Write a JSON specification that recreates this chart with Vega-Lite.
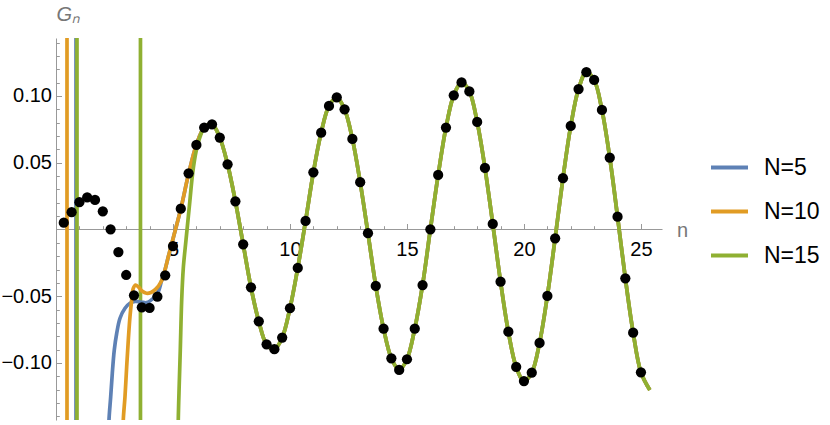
{
  "$schema": "https://vega.github.io/schema/vega-lite/v6.json",
  "width": 606,
  "height": 382,
  "autosize": {"type": "none"},
  "padding": {"left": 56, "top": 38, "right": 168, "bottom": 5},
  "background": "white",
  "config": {
    "view": {"stroke": null},
    "axis": {"grid": false, "labelFont": "Liberation Sans", "titleFont": "Liberation Sans"},
    "legend": {
      "orient": "none", "legendX": 653, "legendY": 109, "title": null,
      "symbolType": "stroke", "symbolSize": 1369, "symbolStrokeWidth": 4,
      "labelFont": "Liberation Sans", "labelFontSize": 23, "labelColor": "#000",
      "rowPadding": 11, "labelOffset": 14, "padding": 0
    }
  },
  "datasets": {
    "rules": [
      {"s": "N=10", "n": 0.47},
      {"s": "N=5", "n": 0.855},
      {"s": "N=15", "n": 0.897},
      {"s": "N=15", "n": 3.61}
    ],
    "curve": [
      {"s": "N=5", "n": 2.252, "g": -0.1577},
      {"s": "N=5", "n": 2.265, "g": -0.1427},
      {"s": "N=5", "n": 2.338, "g": -0.1252},
      {"s": "N=5", "n": 2.406, "g": -0.1077},
      {"s": "N=5", "n": 2.491, "g": -0.0903},
      {"s": "N=5", "n": 2.594, "g": -0.0778},
      {"s": "N=5", "n": 2.735, "g": -0.0665},
      {"s": "N=5", "n": 2.949, "g": -0.059},
      {"s": "N=5", "n": 3.162, "g": -0.0553},
      {"s": "N=5", "n": 3.376, "g": -0.0539},
      {"s": "N=5", "n": 3.632, "g": -0.0543},
      {"s": "N=5", "n": 3.876, "g": -0.0548},
      {"s": "N=5", "n": 4.158, "g": -0.0515},
      {"s": "N=5", "n": 4.372, "g": -0.0466},
      {"s": "N=10", "n": 2.872, "g": -0.1577},
      {"s": "N=10", "n": 2.876, "g": -0.1427},
      {"s": "N=10", "n": 2.949, "g": -0.1252},
      {"s": "N=10", "n": 3.021, "g": -0.1028},
      {"s": "N=10", "n": 3.09, "g": -0.0828},
      {"s": "N=10", "n": 3.162, "g": -0.0653},
      {"s": "N=10", "n": 3.235, "g": -0.0528},
      {"s": "N=10", "n": 3.303, "g": -0.0442},
      {"s": "N=10", "n": 3.397, "g": -0.0416},
      {"s": "N=10", "n": 3.526, "g": -0.0431},
      {"s": "N=10", "n": 3.675, "g": -0.0461},
      {"s": "N=10", "n": 3.868, "g": -0.0478},
      {"s": "N=10", "n": 4.06, "g": -0.0472},
      {"s": "N=10", "n": 4.252, "g": -0.0449},
      {"s": "BO", "n": 4.509, "g": -0.0386},
      {"s": "BO", "n": 4.658, "g": -0.0303},
      {"s": "BO", "n": 4.808, "g": -0.0199},
      {"s": "BO", "n": 5.0, "g": -0.0071},
      {"s": "BO", "n": 5.333, "g": 0.0154},
      {"s": "BO", "n": 5.667, "g": 0.0416},
      {"s": "BO", "n": 6.0, "g": 0.0633},
      {"s": "N=15", "n": 5.222, "g": -0.1577},
      {"s": "N=15", "n": 5.226, "g": -0.1427},
      {"s": "N=15", "n": 5.269, "g": -0.115},
      {"s": "N=15", "n": 5.312, "g": -0.0903},
      {"s": "N=15", "n": 5.372, "g": -0.0528},
      {"s": "N=15", "n": 5.44, "g": -0.0291},
      {"s": "N=15", "n": 5.556, "g": -0.0079},
      {"s": "N=15", "n": 5.697, "g": 0.0169},
      {"s": "N=15", "n": 5.842, "g": 0.0423},
      {"s": "N=15", "n": 5.983, "g": 0.0581},
      {"s": "N=15", "n": 6.154, "g": 0.0693},
      {"s": "all", "n": 6.333, "g": 0.0763},
      {"s": "all", "n": 6.667, "g": 0.0788},
      {"s": "all", "n": 7.0, "g": 0.0688},
      {"s": "all", "n": 7.333, "g": 0.0488},
      {"s": "all", "n": 7.667, "g": 0.0211},
      {"s": "all", "n": 8.0, "g": -0.0111},
      {"s": "all", "n": 8.333, "g": -0.0433},
      {"s": "all", "n": 8.667, "g": -0.0688},
      {"s": "all", "n": 9.0, "g": -0.086},
      {"s": "all", "n": 9.333, "g": -0.0897},
      {"s": "all", "n": 9.667, "g": -0.081},
      {"s": "all", "n": 10.0, "g": -0.059},
      {"s": "all", "n": 10.333, "g": -0.0288},
      {"s": "all", "n": 10.667, "g": 0.0064},
      {"s": "all", "n": 11.0, "g": 0.0428},
      {"s": "all", "n": 11.333, "g": 0.0725},
      {"s": "all", "n": 11.667, "g": 0.0925},
      {"s": "all", "n": 12.0, "g": 0.099},
      {"s": "all", "n": 12.333, "g": 0.09},
      {"s": "all", "n": 12.667, "g": 0.0678},
      {"s": "all", "n": 13.0, "g": 0.0354},
      {"s": "all", "n": 13.333, "g": -0.0028},
      {"s": "all", "n": 13.667, "g": -0.0423},
      {"s": "all", "n": 14.0, "g": -0.0743},
      {"s": "all", "n": 14.333, "g": -0.0965},
      {"s": "all", "n": 14.667, "g": -0.1052},
      {"s": "all", "n": 15.0, "g": -0.0972},
      {"s": "all", "n": 15.333, "g": -0.0743},
      {"s": "all", "n": 15.667, "g": -0.0416},
      {"s": "all", "n": 16.0, "g": 0.0001},
      {"s": "all", "n": 16.333, "g": 0.0408},
      {"s": "all", "n": 16.667, "g": 0.0763},
      {"s": "all", "n": 17.0, "g": 0.1005},
      {"s": "all", "n": 17.333, "g": 0.1101},
      {"s": "all", "n": 17.667, "g": 0.1034},
      {"s": "all", "n": 18.0, "g": 0.0805},
      {"s": "all", "n": 18.333, "g": 0.0461},
      {"s": "all", "n": 18.667, "g": 0.0041},
      {"s": "all", "n": 19.0, "g": -0.0391},
      {"s": "all", "n": 19.333, "g": -0.0766},
      {"s": "all", "n": 19.667, "g": -0.103},
      {"s": "all", "n": 20.0, "g": -0.1135},
      {"s": "all", "n": 20.333, "g": -0.1073},
      {"s": "all", "n": 20.667, "g": -0.085},
      {"s": "all", "n": 21.0, "g": -0.0498},
      {"s": "all", "n": 21.333, "g": -0.0066},
      {"s": "all", "n": 21.667, "g": 0.0384},
      {"s": "all", "n": 22.0, "g": 0.0775},
      {"s": "all", "n": 22.333, "g": 0.1052},
      {"s": "all", "n": 22.667, "g": 0.1178},
      {"s": "all", "n": 23.0, "g": 0.112},
      {"s": "all", "n": 23.333, "g": 0.0895},
      {"s": "all", "n": 23.667, "g": 0.0538},
      {"s": "all", "n": 24.0, "g": 0.0096},
      {"s": "all", "n": 24.333, "g": -0.0366},
      {"s": "all", "n": 24.667, "g": -0.0773},
      {"s": "all", "n": 25.0, "g": -0.107},
      {"s": "all", "n": 25.38, "g": -0.1202}
    ],
    "dots": [
      {"n": 0.333, "g": 0.0051}, {"n": 0.667, "g": 0.0129}, {"n": 1.0, "g": 0.0204},
      {"n": 1.333, "g": 0.0241}, {"n": 1.667, "g": 0.0221}, {"n": 2.0, "g": 0.0136},
      {"n": 2.333, "g": 0.0001}, {"n": 2.667, "g": -0.0169}, {"n": 3.0, "g": -0.0341},
      {"n": 3.333, "g": -0.0493}, {"n": 3.667, "g": -0.0583}, {"n": 4.0, "g": -0.0588},
      {"n": 4.333, "g": -0.0503}, {"n": 4.667, "g": -0.0343}, {"n": 5.0, "g": -0.0124},
      {"n": 5.333, "g": 0.0156}, {"n": 5.667, "g": 0.0421}, {"n": 6.0, "g": 0.0633},
      {"n": 6.333, "g": 0.0763}, {"n": 6.667, "g": 0.0788}, {"n": 7.0, "g": 0.0688},
      {"n": 7.333, "g": 0.0488}, {"n": 7.667, "g": 0.0211}, {"n": 8.0, "g": -0.0111},
      {"n": 8.333, "g": -0.0433}, {"n": 8.667, "g": -0.0688}, {"n": 9.0, "g": -0.086},
      {"n": 9.333, "g": -0.0897}, {"n": 9.667, "g": -0.081}, {"n": 10.0, "g": -0.059},
      {"n": 10.333, "g": -0.0288}, {"n": 10.667, "g": 0.0064}, {"n": 11.0, "g": 0.0428},
      {"n": 11.333, "g": 0.0725}, {"n": 11.667, "g": 0.0925}, {"n": 12.0, "g": 0.099},
      {"n": 12.333, "g": 0.09}, {"n": 12.667, "g": 0.0678}, {"n": 13.0, "g": 0.0354},
      {"n": 13.333, "g": -0.0028}, {"n": 13.667, "g": -0.0423}, {"n": 14.0, "g": -0.0743},
      {"n": 14.333, "g": -0.0965}, {"n": 14.667, "g": -0.1052}, {"n": 15.0, "g": -0.0972},
      {"n": 15.333, "g": -0.0743}, {"n": 15.667, "g": -0.0416}, {"n": 16.0, "g": 0.0001},
      {"n": 16.333, "g": 0.0408}, {"n": 16.667, "g": 0.0763}, {"n": 17.0, "g": 0.1005},
      {"n": 17.333, "g": 0.1101}, {"n": 17.667, "g": 0.1034}, {"n": 18.0, "g": 0.0805},
      {"n": 18.333, "g": 0.0461}, {"n": 18.667, "g": 0.0041}, {"n": 19.0, "g": -0.0391},
      {"n": 19.333, "g": -0.0766}, {"n": 19.667, "g": -0.103}, {"n": 20.0, "g": -0.1135},
      {"n": 20.333, "g": -0.1073}, {"n": 20.667, "g": -0.085}, {"n": 21.0, "g": -0.0498},
      {"n": 21.333, "g": -0.0066}, {"n": 21.667, "g": 0.0384}, {"n": 22.0, "g": 0.0775},
      {"n": 22.333, "g": 0.1052}, {"n": 22.667, "g": 0.1178}, {"n": 23.0, "g": 0.112},
      {"n": 23.333, "g": 0.0895}, {"n": 23.667, "g": 0.0538}, {"n": 24.0, "g": 0.0096},
      {"n": 24.333, "g": -0.0366}, {"n": 24.667, "g": -0.0773}, {"n": 25.0, "g": -0.107}
    ]
  },
  "layer": [
    {
      "data": {"name": "rules"},
      "mark": {"type": "rule", "strokeWidth": 3.7},
      "encoding": {
        "x": {"field": "n", "type": "quantitative", "axis": null,
              "scale": {"domain": [0, 25.9], "nice": false, "zero": false}},
        "color": {"field": "s", "type": "nominal",
                  "scale": {"domain": ["N=5", "N=10", "N=15"], "range": ["#5E81B5", "#E19C24", "#8FB032"]},
                  "legend": {"orient": "none", "legendX": 653, "legendY": 109, "title": null, "symbolType": "stroke"}}
      }
    },
    {
      "data": {"name": "curve"},
      "transform": [{"filter": "datum.s == 'N=5' || datum.s == 'BO' || datum.s == 'all'"}],
      "mark": {"type": "line", "interpolate": "catmull-rom", "strokeWidth": 3.7, "clip": true},
      "encoding": {
        "x": {"field": "n", "type": "quantitative",
              "scale": {"domain": [0, 25.9], "nice": false, "zero": false},
              "axis": {"orient": "bottom", "offset": -191, "values": [1,2,3,4,6,7,8,9,11,12,13,14,16,17,18,19,21,22,23,24],
                       "tickSize": -3.3, "tickColor": "#999", "tickWidth": 1, "labels": false, "domain": false, "title": null}},
        "y": {"field": "g", "type": "quantitative",
              "scale": {"domain": [-0.1427, 0.1434], "nice": false, "zero": false},
              "axis": {"orient": "left", "values": [-0.14,-0.13,-0.12,-0.11,-0.09,-0.08,-0.07,-0.06,-0.04,-0.03,-0.02,-0.01,0.01,0.02,0.03,0.04,0.06,0.07,0.08,0.09,0.11,0.12,0.13,0.14],
                       "tickSize": -3.3, "tickColor": "#999", "tickWidth": 1, "labels": false, "domain": false, "title": null}},
        "color": {"datum": "N=5", "type": "nominal",
                  "scale": {"domain": ["N=5", "N=10", "N=15"], "range": ["#5E81B5", "#E19C24", "#8FB032"]}}
      }
    },
    {
      "data": {"name": "curve"},
      "transform": [{"filter": "datum.s == 'N=10' || datum.s == 'BO' || datum.s == 'all'"}],
      "mark": {"type": "line", "interpolate": "catmull-rom", "strokeWidth": 3.7, "clip": true},
      "encoding": {
        "x": {"field": "n", "type": "quantitative", "axis": null,
              "scale": {"domain": [0, 25.9], "nice": false, "zero": false}},
        "y": {"field": "g", "type": "quantitative", "axis": null,
              "scale": {"domain": [-0.1427, 0.1434], "nice": false, "zero": false}},
        "color": {"datum": "N=10", "type": "nominal",
                  "scale": {"domain": ["N=5", "N=10", "N=15"], "range": ["#5E81B5", "#E19C24", "#8FB032"]}}
      }
    },
    {
      "data": {"name": "curve"},
      "transform": [{"filter": "datum.s == 'N=15' || datum.s == 'all'"}],
      "mark": {"type": "line", "interpolate": "catmull-rom", "strokeWidth": 3.7, "clip": true},
      "encoding": {
        "x": {"field": "n", "type": "quantitative", "axis": null,
              "scale": {"domain": [0, 25.9], "nice": false, "zero": false}},
        "y": {"field": "g", "type": "quantitative", "axis": null,
              "scale": {"domain": [-0.1427, 0.1434], "nice": false, "zero": false}},
        "color": {"datum": "N=15", "type": "nominal",
                  "scale": {"domain": ["N=5", "N=10", "N=15"], "range": ["#5E81B5", "#E19C24", "#8FB032"]}}
      }
    },
    {
      "data": {"name": "dots"},
      "mark": {"type": "circle", "size": 105, "opacity": 1, "color": "black"},
      "encoding": {
        "x": {"field": "n", "type": "quantitative",
              "scale": {"domain": [0, 25.9], "nice": false, "zero": false},
              "axis": {"orient": "bottom", "offset": -191, "values": [5, 10, 15, 20, 25], "format": "d",
                       "tickSize": -5.5, "tickColor": "#999", "tickWidth": 1,
                       "domainColor": "#999", "domainWidth": 1,
                       "labelFontSize": 20, "labelColor": "#000", "labelPadding": 16.2,
                       "labelFlush": false, "labelOverlap": false,
                       "title": "n", "titleX": 626, "titleY": 7.5, "titleAlign": "center", "titleBaseline": "alphabetic",
                       "titleFontSize": 20, "titleFontWeight": "normal", "titleColor": "#777"}},
        "y": {"field": "g", "type": "quantitative",
              "scale": {"domain": [-0.1427, 0.1434], "nice": false, "zero": false},
              "axis": {"orient": "left", "values": [-0.1, -0.05, 0.05, 0.1], "format": ".2f",
                       "tickSize": -5.5, "tickColor": "#999", "tickWidth": 1,
                       "domainColor": "#999", "domainWidth": 1,
                       "labelFontSize": 20, "labelColor": "#000", "labelPadding": 10,
                       "labelFlush": false, "labelOverlap": false,
                       "title": "Gₙ", "titleAngle": 0, "titleX": 0, "titleY": -18, "titleAlign": "left", "titleBaseline": "alphabetic",
                       "titleFontSize": 20, "titleFontStyle": "italic", "titleFontWeight": "normal", "titleColor": "#777"}}
      }
    }
  ],
  "resolve": {"axis": {"x": "independent", "y": "independent"}}
}
